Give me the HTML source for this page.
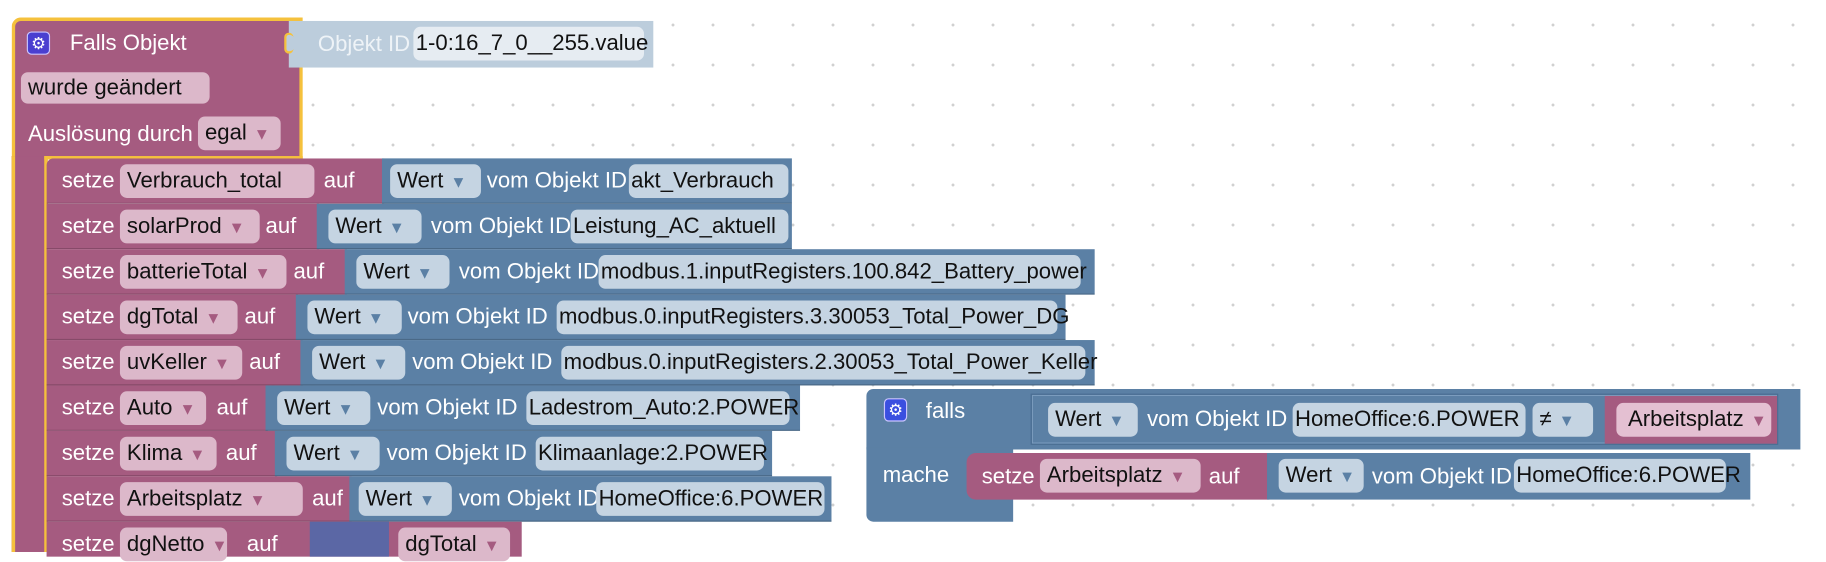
<!DOCTYPE html>
<html><head><meta charset="utf-8">
<style>
html,body{margin:0;padding:0;width:1826px;height:541px;overflow:hidden;background:#fff}
body{background-image:radial-gradient(circle,#d0d0d0 1.3px,transparent 1.6px);background-size:40px 40px;background-position:13px 5px}
#s{position:absolute;left:0;top:0;width:1568px;height:465px;transform:scale(1.16454);transform-origin:0 0;font-family:"Liberation Sans",sans-serif;font-size:19px}
.b{position:absolute;box-sizing:border-box}
.m{background:#a55b80}
.u{background:#5b80a5}
.t{position:absolute;color:#fff;white-space:nowrap;line-height:20px;margin-top:2px}
.f{position:absolute;height:29px;line-height:29px;border-radius:6px;color:#111;white-space:nowrap;padding-left:6px;box-sizing:border-box;overflow:visible}
.fm{background:#dcb8ca}
.fu{background:#c5d4e2}
.a{color:#5b80a5;font-size:14px;margin-left:6px}
.am{color:#a55b80;font-size:14px;margin-left:6px}
.row{border-bottom:1px solid rgba(0,0,0,.18)}
.gear{position:absolute;width:18px;height:18px;border-radius:4px;background:#4a3fd0;border:1px solid #c9c4ff;color:#fff;font-size:14px;line-height:18px;text-align:center}
</style></head><body><div id="s">

<!-- hat block -->
<div class="b m" style="left:10px;top:15px;width:250px;height:122px;border:3px solid #f5c13c;border-bottom:none;border-radius:8px 0 0 0"></div>
<div class="b m" style="left:10px;top:134px;width:31px;height:340px;border-left:3px solid #f5c13c;border-right:3px solid #f5c13c"></div>
<div class="b" style="left:38px;top:134px;width:222px;height:3px;background:#f5c13c"></div>
<div class="gear" style="left:23px;top:27px">⚙</div>
<div class="t" style="left:60px;top:26px;font-size:19px">Falls Objekt</div>
<div class="b" style="left:248px;top:18px;width:313px;height:40px;background:#bccddc"></div>
<div class="b" style="left:244px;top:28px;width:8px;height:18px;border-radius:5px;background:#bccddc;border:2px solid #f5c13c;border-right:none"></div>
<div class="t" style="left:273px;top:27px;color:#eef3f7">Objekt ID</div>
<div class="f" style="left:355px;top:23px;width:198px;background:#e6ecf2;padding-left:2px">1-0:16_7_0__255.value</div>
<div class="f fm" style="left:18px;top:62px;width:162px;height:27px;line-height:27px">wurde geändert</div>
<div class="t" style="left:24px;top:104px">Auslösung durch</div>
<div class="f fm" style="left:170px;top:100px;width:71px">egal<span class="am">▼</span></div>

<!-- statement rows -->
<div class="b m row" style="left:40px;top:136px;width:290px;height:39px;border-radius:6px 0 0 0"></div>
<div class="b u row" style="left:328px;top:136px;width:352px;height:39px"></div>
<div class="t" style="left:53px;top:144px">setze</div>
<div class="f fm" style="left:103px;top:141px;width:167px">Verbrauch_total</div>
<div class="t" style="left:278px;top:144px">auf</div>
<div class="f fu" style="left:335px;top:141px;width:78px">Wert<span class="a">▼</span></div>
<div class="t" style="left:418px;top:144px">vom Objekt ID</div>
<div class="f fu" style="left:540px;top:141px;width:137px;padding-left:2px">akt_Verbrauch</div>

<div class="b m row" style="left:40px;top:175px;width:234px;height:39px"></div>
<div class="b u row" style="left:272px;top:175px;width:408px;height:39px"></div>
<div class="t" style="left:53px;top:183px">setze</div>
<div class="f fm" style="left:103px;top:180px;width:120px">solarProd<span class="am">▼</span></div>
<div class="t" style="left:228px;top:183px">auf</div>
<div class="f fu" style="left:282px;top:180px;width:80px">Wert<span class="a">▼</span></div>
<div class="t" style="left:370px;top:183px">vom Objekt ID</div>
<div class="f fu" style="left:490px;top:180px;width:187px;padding-left:2px">Leistung_AC_aktuell</div>

<div class="b m row" style="left:40px;top:214px;width:258px;height:39px"></div>
<div class="b u row" style="left:296px;top:214px;width:644px;height:39px"></div>
<div class="t" style="left:53px;top:222px">setze</div>
<div class="f fm" style="left:103px;top:219px;width:143px">batterieTotal<span class="am">▼</span></div>
<div class="t" style="left:252px;top:222px">auf</div>
<div class="f fu" style="left:306px;top:219px;width:80px">Wert<span class="a">▼</span></div>
<div class="t" style="left:394px;top:222px">vom Objekt ID</div>
<div class="f fu" style="left:514px;top:219px;width:414px;padding-left:2px">modbus.1.inputRegisters.100.842_Battery_power</div>

<div class="b m row" style="left:40px;top:253px;width:216px;height:39px"></div>
<div class="b u row" style="left:254px;top:253px;width:661px;height:39px"></div>
<div class="t" style="left:53px;top:261px">setze</div>
<div class="f fm" style="left:103px;top:258px;width:101px">dgTotal<span class="am">▼</span></div>
<div class="t" style="left:210px;top:261px">auf</div>
<div class="f fu" style="left:264px;top:258px;width:81px">Wert<span class="a">▼</span></div>
<div class="t" style="left:350px;top:261px">vom Objekt ID</div>
<div class="f fu" style="left:478px;top:258px;width:430px;padding-left:2px">modbus.0.inputRegisters.3.30053_Total_Power_DG</div>

<div class="b m row" style="left:40px;top:292px;width:220px;height:39px"></div>
<div class="b u row" style="left:258px;top:292px;width:682px;height:39px"></div>
<div class="t" style="left:53px;top:300px">setze</div>
<div class="f fm" style="left:103px;top:297px;width:105px">uvKeller<span class="am">▼</span></div>
<div class="t" style="left:214px;top:300px">auf</div>
<div class="f fu" style="left:268px;top:297px;width:80px">Wert<span class="a">▼</span></div>
<div class="t" style="left:354px;top:300px">vom Objekt ID</div>
<div class="f fu" style="left:482px;top:297px;width:450px;padding-left:2px">modbus.0.inputRegisters.2.30053_Total_Power_Keller</div>

<div class="b m row" style="left:40px;top:331px;width:190px;height:39px"></div>
<div class="b u row" style="left:228px;top:331px;width:459px;height:39px"></div>
<div class="t" style="left:53px;top:339px">setze</div>
<div class="f fm" style="left:103px;top:336px;width:74px">Auto<span class="am">▼</span></div>
<div class="t" style="left:186px;top:339px">auf</div>
<div class="f fu" style="left:238px;top:336px;width:80px">Wert<span class="a">▼</span></div>
<div class="t" style="left:324px;top:339px">vom Objekt ID</div>
<div class="f fu" style="left:452px;top:336px;width:226px;padding-left:2px">Ladestrom_Auto:2.POWER</div>

<div class="b m row" style="left:40px;top:370px;width:198px;height:39px"></div>
<div class="b u row" style="left:236px;top:370px;width:427px;height:39px"></div>
<div class="t" style="left:53px;top:378px">setze</div>
<div class="f fm" style="left:103px;top:375px;width:83px">Klima<span class="am">▼</span></div>
<div class="t" style="left:194px;top:378px">auf</div>
<div class="f fu" style="left:246px;top:375px;width:80px">Wert<span class="a">▼</span></div>
<div class="t" style="left:332px;top:378px">vom Objekt ID</div>
<div class="f fu" style="left:460px;top:375px;width:196px;padding-left:2px">Klimaanlage:2.POWER</div>

<div class="b m row" style="left:40px;top:409px;width:262px;height:39px"></div>
<div class="b u row" style="left:300px;top:409px;width:414px;height:39px"></div>
<div class="t" style="left:53px;top:417px">setze</div>
<div class="f fm" style="left:103px;top:414px;width:157px">Arbeitsplatz<span class="am">▼</span></div>
<div class="t" style="left:268px;top:417px">auf</div>
<div class="f fu" style="left:308px;top:414px;width:80px">Wert<span class="a">▼</span></div>
<div class="t" style="left:394px;top:417px">vom Objekt ID</div>
<div class="f fu" style="left:512px;top:414px;width:196px;padding-left:2px">HomeOffice:6.POWER</div>

<div class="b m" style="left:40px;top:448px;width:408px;height:30px"></div>
<div class="b" style="left:266px;top:448px;width:68px;height:30px;background:#5b67a5"></div>
<div class="t" style="left:53px;top:456px">setze</div>
<div class="f fm" style="left:103px;top:453px;width:92px">dgNetto<span class="am">▼</span></div>
<div class="t" style="left:212px;top:456px">auf</div>
<div class="f fm" style="left:342px;top:453px;width:96px">dgTotal<span class="am">▼</span></div>

<!-- falls block -->
<div class="b u" style="left:744px;top:334px;width:802px;height:52px;border-radius:6px 0 0 0"></div>
<div class="b u" style="left:744px;top:384px;width:126px;height:64px;border-radius:0 0 0 6px"></div>
<div class="gear" style="left:759px;top:342px;background:#3a4fe0">⚙</div>
<div class="t" style="left:795px;top:342px">falls</div>
<div class="b" style="left:885px;top:338px;width:642px;height:44px;border:1px solid #4a6d92;box-shadow:inset 0 0 0 1px #7b9cbe"></div>
<div class="f fu" style="left:900px;top:346px;width:77px">Wert<span class="a">▼</span></div>
<div class="t" style="left:985px;top:349px">vom Objekt ID</div>
<div class="f fu" style="left:1110px;top:346px;width:200px;padding-left:2px">HomeOffice:6.POWER</div>
<div class="f fu" style="left:1316px;top:346px;width:52px">≠<span class="a">▼</span></div>
<div class="b m" style="left:1378px;top:340px;width:148px;height:41px"></div>
<div class="f" style="left:1388px;top:346px;width:133px;background:#e4c0d2;padding-left:10px">Arbeitsplatz<span class="am">▼</span></div>
<div class="t" style="left:758px;top:397px">mache</div>
<div class="b m" style="left:830px;top:389px;width:260px;height:40px;border-radius:8px 0 0 8px"></div>
<div class="b u" style="left:1088px;top:389px;width:415px;height:40px"></div>
<div class="t" style="left:843px;top:398px">setze</div>
<div class="f fm" style="left:893px;top:394px;width:138px">Arbeitsplatz<span class="am">▼</span></div>
<div class="t" style="left:1038px;top:398px">auf</div>
<div class="f fu" style="left:1098px;top:394px;width:73px">Wert<span class="a">▼</span></div>
<div class="t" style="left:1178px;top:398px">vom Objekt ID</div>
<div class="f fu" style="left:1300px;top:394px;width:182px;padding-left:2px">HomeOffice:6.POWER</div>

</div></body></html>
